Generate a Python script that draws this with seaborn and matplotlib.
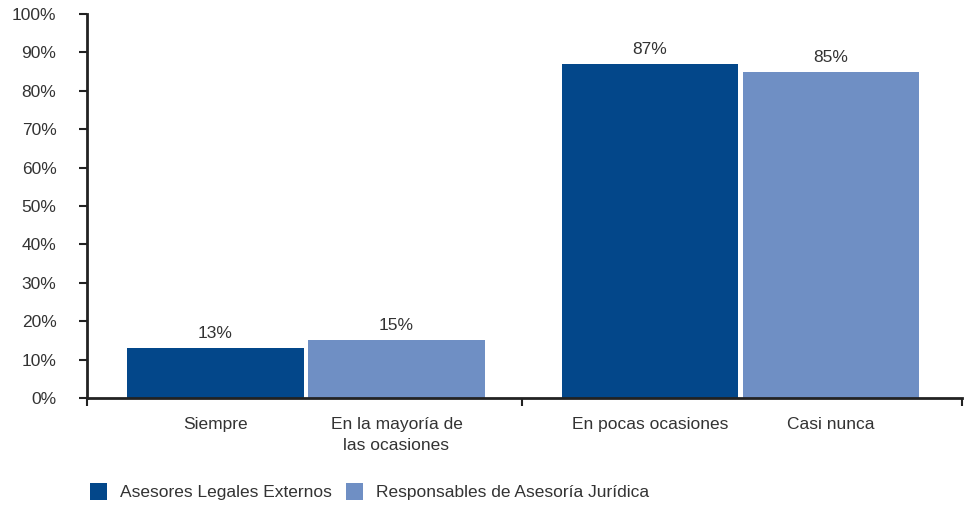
import matplotlib
matplotlib.use("Agg")
import matplotlib.pyplot as plt
import seaborn as sns
import pandas as pd
import numpy as np
from matplotlib.ticker import FixedLocator, PercentFormatter
from matplotlib.patches import Patch

categories = ["Siempre", "En la mayoría de\nlas ocasiones", "En pocas ocasiones", "Casi nunca"]
series = ["Asesores Legales Externos", "Responsables de Asesoría Jurídica",
          "Asesores Legales Externos", "Responsables de Asesoría Jurídica"]
values = [13, 15, 87, 85]
legend_labels = ["Asesores Legales Externos", "Responsables de Asesoría Jurídica"]
yticks = [0, 10, 20, 30, 40, 50, 60, 70, 80, 90, 100]

colors = {"Asesores Legales Externos": "#03478A",
          "Responsables de Asesoría Jurídica": "#6F8FC4"}

# layout positions: two groups of two bars
G = 2.4
grp = [0, 0, 1, 1]
inner = [0, 1, 0, 1]
pos = [g * G + i for g, i in zip(grp, inner)]

df = pd.DataFrame({"pos": pos, "val": values, "serie": series, "cat": categories})

sns.set_style("white")
plt.rcParams["font.family"] = ["Liberation Sans", "DejaVu Sans"]
text_color = "#333333"

fig = plt.figure(figsize=(9.68, 5.07), dpi=100)
ax = fig.add_axes([87 / 968, 109 / 507, (962 - 87) / 968, (398 - 14) / 507])

sns.barplot(data=df, x="pos", y="val", hue="serie", hue_order=legend_labels,
            palette=colors, native_scale=True, width=0.975, dodge=False,
            saturation=1, ax=ax, legend=False, linewidth=0)

for cont in ax.containers:
    ax.bar_label(cont, fmt="%d%%", padding=5, fontsize=12.5, color=text_color)

left, mid, right = -0.71, G - 0.705, 2 * G - 0.675
ax.set_xlim(left, right)
ax.set_ylim(0, 100)
ax.set_yticks(yticks)
ax.yaxis.set_major_formatter(PercentFormatter(decimals=0))
ax.xaxis.set_major_locator(FixedLocator([left, mid, right]))
ax.xaxis.set_minor_locator(FixedLocator(pos))
ax.set_xticklabels([], minor=False)
ax.set_xticklabels(categories, minor=True, linespacing=1.5)
ax.tick_params(bottom=True, left=True)
ax.tick_params(axis="x", which="major", length=6, width=1.5, direction="out", color="#222222")
ax.tick_params(axis="x", which="minor", bottom=True, length=0, pad=14, labelsize=12.5, labelcolor=text_color)
ax.tick_params(axis="y", which="major", length=6, width=1.5, direction="out", color="#222222",
               labelsize=12.5, labelcolor=text_color, pad=16)
ax.set_xlabel("")
ax.set_ylabel("")
for s in ["top", "right"]:
    ax.spines[s].set_visible(False)
for s in ["left", "bottom"]:
    ax.spines[s].set_linewidth(2)
    ax.spines[s].set_color("#222222")

handles = [Patch(facecolor=colors[l], edgecolor="none") for l in legend_labels]
fig.legend(handles, legend_labels, loc="lower left", bbox_to_anchor=(76 / 968, -0.014),
           ncol=2, frameon=False, fontsize=12.5, handlelength=1.0, handleheight=1.1,
           handletextpad=0.75, columnspacing=0.8, labelcolor=text_color, borderpad=0.3)

fig.savefig("out.png", dpi=100)
